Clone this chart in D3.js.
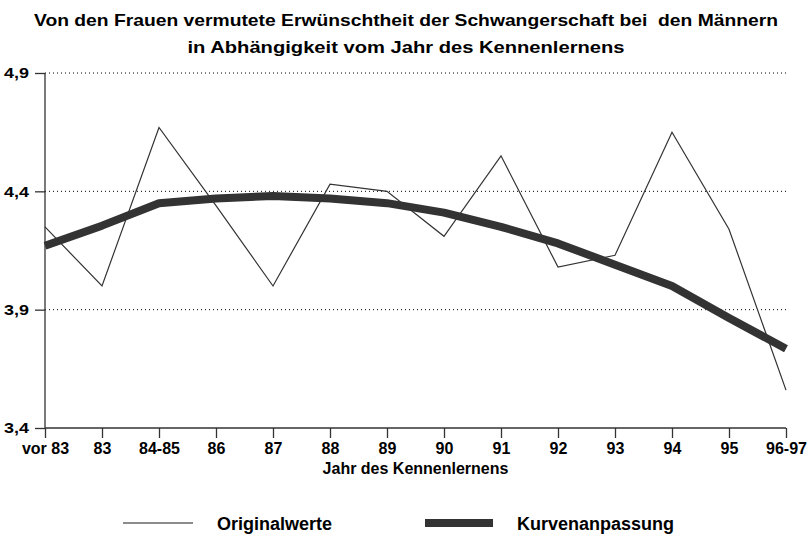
<!DOCTYPE html>
<html>
<head>
<meta charset="utf-8">
<script src="https://cdn.jsdelivr.net/npm/d3@7"></script>
<style>
  body { margin: 0; background: #fff; }
  text { font-family: "Liberation Sans", Arial, sans-serif; font-weight: bold; fill: #000; }
</style>
</head>
<body>
<svg id="chart" width="812" height="539"></svg>
<script>
// categories (year of meeting)
var years = ["vor 83", "83", "84-85", "86", "87", "88", "89", "90", "91", "92", "93", "94", "95", "96-97"];
// original values
var originalwerte = [4.25, 4.0, 4.67, 4.34, 4.0, 4.43, 4.40, 4.21, 4.55, 4.08, 4.13, 4.65, 4.24, 3.56];
// fitted curve
var kurvenanpassung = [4.17, 4.255, 4.35, 4.37, 4.38, 4.37, 4.35, 4.31, 4.25, 4.18, 4.09, 4.0, 3.865, 3.735];
var yTicks = [3.4, 3.9, 4.4, 4.9];

var svg = d3.select("#chart"),
    margin = {top: 73, right: 26, bottom: 111, left: 45},
    width = +svg.attr("width") - margin.left - margin.right,
    height = +svg.attr("height") - margin.top - margin.bottom,
    g = svg.append("g").attr("transform", "translate(" + margin.left + "," + margin.top + ")");

var x = d3.scalePoint().domain(years).range([0, width]);
var y = d3.scaleLinear().domain([3.4, 4.9]).range([height, 0]);

var fmt = function(d) { return d3.format(".1f")(d).replace(".", ","); };

// title
svg.append("text").attr("x", 406).attr("y", 26).attr("text-anchor", "middle")
    .style("font-size", "17px").style("white-space", "pre")
    .attr("textLength", 744).attr("lengthAdjust", "spacingAndGlyphs")
    .text("Von den Frauen vermutete Erwünschtheit der Schwangerschaft bei  den Männern");
svg.append("text").attr("x", 406).attr("y", 53).attr("text-anchor", "middle")
    .style("font-size", "17px").attr("textLength", 437).attr("lengthAdjust", "spacingAndGlyphs")
    .text("in Abhängigkeit vom Jahr des Kennenlernens");

// dotted gridlines
g.append("g").selectAll("line")
    .data(yTicks.filter(function(d) { return d > 3.4; }))
    .enter().append("line")
    .attr("x1", 0).attr("x2", width)
    .attr("y1", function(d) { return y(d); })
    .attr("y2", function(d) { return y(d); })
    .attr("stroke", "#000").attr("stroke-width", 1)
    .attr("stroke-dasharray", "1,3");

// y axis
var yAxis = g.append("g")
    .call(d3.axisLeft(y).tickValues(yTicks).tickFormat(fmt).tickSize(10).tickPadding(6));
yAxis.selectAll("text").style("font-size", "15px").attr("fill", "#000")
    .attr("textLength", 25).attr("lengthAdjust", "spacingAndGlyphs");

// x axis
var xAxis = g.append("g")
    .attr("transform", "translate(0," + height + ")")
    .call(d3.axisBottom(x).tickSize(10).tickPadding(5));
xAxis.selectAll("text").style("font-size", "16px").attr("fill", "#000");

[yAxis, xAxis].forEach(function(a) {
    a.select(".domain").attr("stroke", "#333").attr("stroke-width", 1.3);
    a.selectAll(".tick line").attr("stroke", "#333").attr("stroke-width", 1.3);
});
yAxis.select(".domain").attr("d", "M0," + height + "V0");
xAxis.select(".domain").attr("d", "M0,0H" + width);

// axis title
svg.append("text").attr("x", margin.left + width / 2).attr("y", 474)
    .attr("text-anchor", "middle").style("font-size", "16px")
    .text("Jahr des Kennenlernens");

var line = d3.line()
    .x(function(d, i) { return x(years[i]); })
    .y(function(d) { return y(d); });

// original values
g.append("path")
    .datum(originalwerte)
    .attr("fill", "none")
    .attr("stroke", "#333")
    .attr("stroke-width", 1.2)
    .attr("d", line);

// fitted curve
g.append("path")
    .datum(kurvenanpassung)
    .attr("fill", "none")
    .attr("stroke", "#333")
    .attr("stroke-width", 8)
    .attr("stroke-linejoin", "round")
    .attr("d", line);

// legend
var legend = svg.append("g");
legend.append("line").attr("x1", 123).attr("x2", 193).attr("y1", 523).attr("y2", 523)
    .attr("stroke", "#666").attr("stroke-width", 1.3);
legend.append("text").attr("x", 217).attr("y", 530).style("font-size", "18px").text("Originalwerte");
legend.append("rect").attr("x", 425).attr("y", 519).attr("width", 68).attr("height", 8).attr("fill", "#333");
legend.append("text").attr("x", 517).attr("y", 530).style("font-size", "18px").text("Kurvenanpassung");
</script>
</body>
</html>
